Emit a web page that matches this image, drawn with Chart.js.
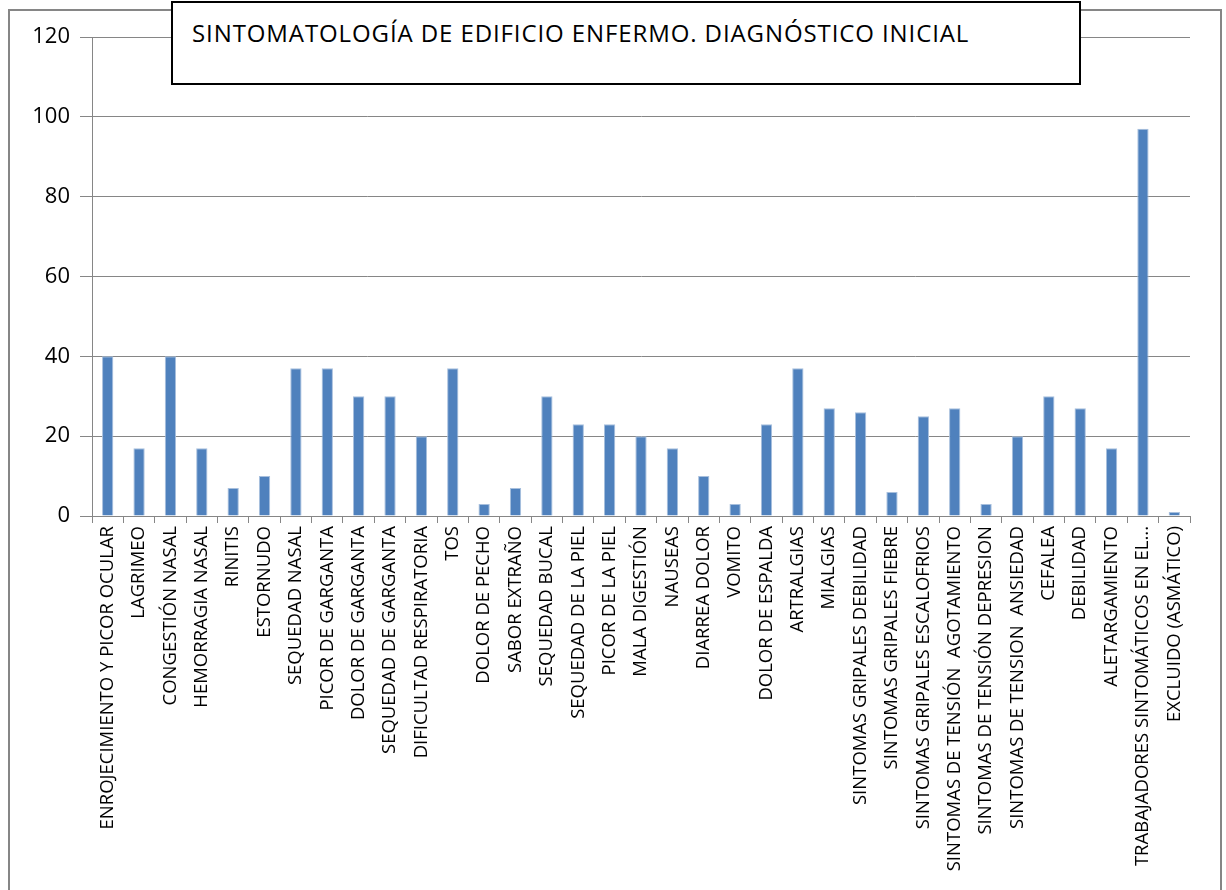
<!DOCTYPE html>
<html lang="es">
<head>
<meta charset="utf-8">
<script src="https://cdn.jsdelivr.net/npm/chart.js@4.4.1/dist/chart.umd.min.js"></script>
<style>
  html, body { margin: 0; padding: 0; background: #ffffff; }
  #wrap { position: relative; width: 1226px; height: 890px; overflow: hidden; }
  #frame { position: absolute; left: 8px; top: 9px; width: 1210px; height: 950px;
           border: 2px solid #868686; pointer-events: none; }
  #titleBox { position: absolute; left: 171px; top: 1px; width: 906px; height: 80px;
              border: 2px solid #000000; background: #ffffff;
              font-family: "Open Sans", sans-serif; font-size: 24px; letter-spacing: 0.9px; color: #000000; }
  #titleBox span { position: absolute; left: 19px; top: 13px; white-space: nowrap; }
</style>
</head>
<body>
<div id="wrap">
  <canvas id="barChart" width="1226" height="890"></canvas>
  <div id="frame"></div>
  <div id="titleBox"><span>SINTOMATOLOGÍA DE EDIFICIO ENFERMO. DIAGNÓSTICO INICIAL</span></div>
</div>
<script>
// Kategorien (Symptome)
let symptoms = [
  'ENROJECIMIENTO Y PICOR OCULAR', 'LAGRIMEO', 'CONGESTIÓN NASAL', 'HEMORRAGIA NASAL',
  'RINITIS', 'ESTORNUDO', 'SEQUEDAD NASAL', 'PICOR DE GARGANTA', 'DOLOR DE GARGANTA',
  'SEQUEDAD DE GARGANTA', 'DIFICULTAD RESPIRATORIA', 'TOS', 'DOLOR DE PECHO',
  'SABOR EXTRAÑO', 'SEQUEDAD BUCAL', 'SEQUEDAD DE LA PIEL', 'PICOR DE LA PIEL',
  'MALA DIGESTIÓN', 'NAUSEAS', 'DIARREA DOLOR', 'VOMITO', 'DOLOR DE ESPALDA',
  'ARTRALGIAS', 'MIALGIAS', 'SINTOMAS GRIPALES DEBILIDAD', 'SINTOMAS GRIPALES FIEBRE',
  'SINTOMAS GRIPALES ESCALOFRIOS', 'SINTOMAS DE TENSIÓN  AGOTAMIENTO',
  'SINTOMAS DE TENSIÓN DEPRESION', 'SINTOMAS DE TENSION  ANSIEDAD', 'CEFALEA',
  'DEBILIDAD', 'ALETARGAMIENTO', 'TRABAJADORES SINTOMÁTICOS EN EL...', 'EXCLUIDO (ASMÁTICO)'
];

// Werte pro Symptom
let counts = [
  40, 17, 40, 17, 7, 10, 37, 37, 30, 30, 20, 37, 3, 7, 30, 23, 23,
  20, 17, 10, 3, 23, 37, 27, 26, 6, 25, 27, 3, 20, 30, 27, 17, 97, 1
];

// Achsenbereich
let yMin = 0, yMax = 120, yStep = 20;

let gridColor = '#868686';

let config = {
  type: 'bar',
  data: {
    labels: symptoms,
    datasets: [
      { data: counts, backgroundColor: '#4f81bd', borderColor: '#a7bfdd', borderWidth: { top: 1, left: 1, right: 1, bottom: 0 },
        barPercentage: 0.36, categoryPercentage: 1 }
    ]
  },
  options: {
    responsive: false,
    animation: false,
    layout: { padding: { left: 0, top: 37, right: 36, bottom: 0 } },
    plugins: { legend: { display: false }, tooltip: { enabled: false }, title: { display: false } },
    scales: {
      x: {
        grid: { display: true, drawOnChartArea: false, drawTicks: true, tickLength: 7, color: gridColor, offset: true },
        border: { display: true, color: gridColor, width: 1 },
        ticks: {
          autoSkip: false, minRotation: 90, maxRotation: 90, padding: 3,
          color: '#000000', font: { family: 'Open Sans', size: 18.5 }
        },
        afterFit: s => { s.height = 374; }
      },
      y: {
        min: yMin, max: yMax,
        grid: { color: gridColor, lineWidth: 1, tickLength: 12, drawTicks: true },
        border: { display: true, color: gridColor, width: 1 },
        ticks: { stepSize: yStep, padding: 10, color: '#000000', font: { family: 'Open Sans', size: 22 } },
        afterFit: s => { s.width = 92; }
      }
    }
  }
};

// Diagramm erstellen
let ctx = document.getElementById('barChart').getContext('2d');
let barChart = new Chart(ctx, config);
</script>
</body>
</html>
